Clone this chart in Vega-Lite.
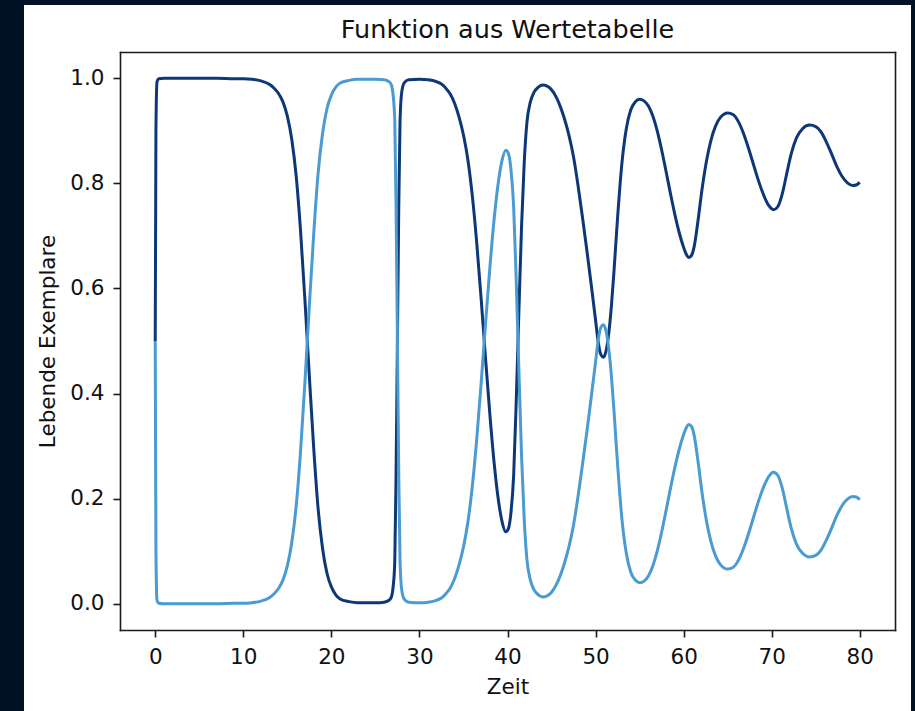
{
  "$schema": "https://vega.github.io/schema/vega-lite/v6.json",
  "width": 887,
  "height": 706,
  "padding": {"left": 24, "top": 5, "right": 4, "bottom": 0},
  "background": "#011126",
  "title": {
    "text": "Funktion aus Wertetabelle",
    "anchor": "middle",
    "frame": "group",
    "dx": 40,
    "dy": 24,
    "offset": -34,
    "baseline": "alphabetic",
    "font": "DejaVu Sans",
    "fontSize": 25.5,
    "fontWeight": "normal",
    "color": "#111111"
  },
  "config": {
    "view": {"fill": "white", "stroke": null},
    "axis": {
      "grid": false,
      "domainColor": "#1a1a1a",
      "domainWidth": 1.6,
      "domainCap": "square",
      "tickColor": "#1a1a1a",
      "tickWidth": 1.6,
      "tickSize": 7,
      "labelFont": "DejaVu Sans",
      "labelFontSize": 21.5,
      "labelColor": "#111111",
      "labelPadding": 9,
      "labelFlush": false,
      "labelOverlap": false,
      "titleFont": "DejaVu Sans",
      "titleFontSize": 21.5,
      "titleFontWeight": "normal",
      "titleColor": "#111111"
    }
  },
  "data": {
    "values": [
      {"Zeit": 0, "Art A": 0.5, "Art B": 0.5},
      {"Zeit": 0.08, "Art A": 0.9, "Art B": 0.1},
      {"Zeit": 0.2, "Art A": 0.993, "Art B": 0.007},
      {"Zeit": 0.4, "Art A": 0.999, "Art B": 0.001},
      {"Zeit": 1, "Art A": 1.0, "Art B": 0.0},
      {"Zeit": 3, "Art A": 1.0, "Art B": 0.0},
      {"Zeit": 5, "Art A": 1.0, "Art B": 0.0},
      {"Zeit": 7, "Art A": 1.0, "Art B": 0.0},
      {"Zeit": 9, "Art A": 0.999, "Art B": 0.001},
      {"Zeit": 10, "Art A": 0.999, "Art B": 0.001},
      {"Zeit": 11, "Art A": 0.998, "Art B": 0.002},
      {"Zeit": 12, "Art A": 0.995, "Art B": 0.005},
      {"Zeit": 13, "Art A": 0.988, "Art B": 0.012},
      {"Zeit": 13.5, "Art A": 0.981, "Art B": 0.019},
      {"Zeit": 14, "Art A": 0.971, "Art B": 0.029},
      {"Zeit": 14.5, "Art A": 0.955, "Art B": 0.045},
      {"Zeit": 15, "Art A": 0.928, "Art B": 0.072},
      {"Zeit": 15.5, "Art A": 0.884, "Art B": 0.116},
      {"Zeit": 16, "Art A": 0.815, "Art B": 0.185},
      {"Zeit": 16.5, "Art A": 0.71, "Art B": 0.29},
      {"Zeit": 17, "Art A": 0.578, "Art B": 0.422},
      {"Zeit": 17.25, "Art A": 0.505, "Art B": 0.495},
      {"Zeit": 17.5, "Art A": 0.433, "Art B": 0.567},
      {"Zeit": 18, "Art A": 0.295, "Art B": 0.705},
      {"Zeit": 18.5, "Art A": 0.18, "Art B": 0.82},
      {"Zeit": 19, "Art A": 0.105, "Art B": 0.895},
      {"Zeit": 19.5, "Art A": 0.058, "Art B": 0.942},
      {"Zeit": 20, "Art A": 0.032, "Art B": 0.968},
      {"Zeit": 20.5, "Art A": 0.017, "Art B": 0.983},
      {"Zeit": 21, "Art A": 0.009, "Art B": 0.991},
      {"Zeit": 22, "Art A": 0.004, "Art B": 0.996},
      {"Zeit": 23, "Art A": 0.002, "Art B": 0.998},
      {"Zeit": 24, "Art A": 0.002, "Art B": 0.998},
      {"Zeit": 25, "Art A": 0.002, "Art B": 0.998},
      {"Zeit": 26, "Art A": 0.003, "Art B": 0.997},
      {"Zeit": 26.5, "Art A": 0.006, "Art B": 0.994},
      {"Zeit": 26.8, "Art A": 0.012, "Art B": 0.988},
      {"Zeit": 27.0, "Art A": 0.03, "Art B": 0.97},
      {"Zeit": 27.2, "Art A": 0.08, "Art B": 0.92},
      {"Zeit": 27.35, "Art A": 0.25, "Art B": 0.75},
      {"Zeit": 27.5, "Art A": 0.5, "Art B": 0.5},
      {"Zeit": 27.65, "Art A": 0.75, "Art B": 0.25},
      {"Zeit": 27.8, "Art A": 0.92, "Art B": 0.08},
      {"Zeit": 28.0, "Art A": 0.975, "Art B": 0.025},
      {"Zeit": 28.3, "Art A": 0.992, "Art B": 0.008},
      {"Zeit": 28.8, "Art A": 0.997, "Art B": 0.003},
      {"Zeit": 30, "Art A": 0.998, "Art B": 0.002},
      {"Zeit": 31, "Art A": 0.997, "Art B": 0.003},
      {"Zeit": 32, "Art A": 0.993, "Art B": 0.007},
      {"Zeit": 32.5, "Art A": 0.989, "Art B": 0.011},
      {"Zeit": 33, "Art A": 0.981, "Art B": 0.019},
      {"Zeit": 33.5, "Art A": 0.97, "Art B": 0.03},
      {"Zeit": 34, "Art A": 0.952, "Art B": 0.048},
      {"Zeit": 34.5, "Art A": 0.926, "Art B": 0.074},
      {"Zeit": 35, "Art A": 0.892, "Art B": 0.108},
      {"Zeit": 35.5, "Art A": 0.845, "Art B": 0.155},
      {"Zeit": 36, "Art A": 0.777, "Art B": 0.223},
      {"Zeit": 36.5, "Art A": 0.688, "Art B": 0.312},
      {"Zeit": 37, "Art A": 0.582, "Art B": 0.418},
      {"Zeit": 37.5, "Art A": 0.468, "Art B": 0.532},
      {"Zeit": 38, "Art A": 0.36, "Art B": 0.64},
      {"Zeit": 38.5, "Art A": 0.265, "Art B": 0.735},
      {"Zeit": 39, "Art A": 0.193, "Art B": 0.807},
      {"Zeit": 39.4, "Art A": 0.155, "Art B": 0.845},
      {"Zeit": 39.8, "Art A": 0.137, "Art B": 0.863},
      {"Zeit": 40.1, "Art A": 0.143, "Art B": 0.857},
      {"Zeit": 40.4, "Art A": 0.175, "Art B": 0.825},
      {"Zeit": 40.7, "Art A": 0.245, "Art B": 0.755},
      {"Zeit": 41.0, "Art A": 0.39, "Art B": 0.61},
      {"Zeit": 41.3, "Art A": 0.56, "Art B": 0.44},
      {"Zeit": 41.6, "Art A": 0.72, "Art B": 0.28},
      {"Zeit": 41.9, "Art A": 0.84, "Art B": 0.16},
      {"Zeit": 42.2, "Art A": 0.915, "Art B": 0.085},
      {"Zeit": 42.6, "Art A": 0.955, "Art B": 0.045},
      {"Zeit": 43.0, "Art A": 0.973, "Art B": 0.027},
      {"Zeit": 43.5, "Art A": 0.983, "Art B": 0.017},
      {"Zeit": 44.0, "Art A": 0.987, "Art B": 0.013},
      {"Zeit": 44.5, "Art A": 0.985, "Art B": 0.015},
      {"Zeit": 45.0, "Art A": 0.978, "Art B": 0.022},
      {"Zeit": 45.5, "Art A": 0.965, "Art B": 0.035},
      {"Zeit": 46.0, "Art A": 0.946, "Art B": 0.054},
      {"Zeit": 46.5, "Art A": 0.921, "Art B": 0.079},
      {"Zeit": 47.0, "Art A": 0.89, "Art B": 0.11},
      {"Zeit": 47.5, "Art A": 0.85, "Art B": 0.15},
      {"Zeit": 48.0, "Art A": 0.797, "Art B": 0.203},
      {"Zeit": 48.5, "Art A": 0.737, "Art B": 0.263},
      {"Zeit": 49.0, "Art A": 0.674, "Art B": 0.326},
      {"Zeit": 49.5, "Art A": 0.608, "Art B": 0.392},
      {"Zeit": 50.0, "Art A": 0.54, "Art B": 0.46},
      {"Zeit": 50.3, "Art A": 0.498, "Art B": 0.502},
      {"Zeit": 50.6, "Art A": 0.474, "Art B": 0.526},
      {"Zeit": 50.9, "Art A": 0.469, "Art B": 0.531},
      {"Zeit": 51.2, "Art A": 0.482, "Art B": 0.518},
      {"Zeit": 51.5, "Art A": 0.515, "Art B": 0.485},
      {"Zeit": 51.8, "Art A": 0.567, "Art B": 0.433},
      {"Zeit": 52.1, "Art A": 0.635, "Art B": 0.365},
      {"Zeit": 52.5, "Art A": 0.735, "Art B": 0.265},
      {"Zeit": 53.0, "Art A": 0.84, "Art B": 0.16},
      {"Zeit": 53.5, "Art A": 0.905, "Art B": 0.095},
      {"Zeit": 54.0, "Art A": 0.94, "Art B": 0.06},
      {"Zeit": 54.5, "Art A": 0.955, "Art B": 0.045},
      {"Zeit": 55.0, "Art A": 0.96, "Art B": 0.04},
      {"Zeit": 55.5, "Art A": 0.957, "Art B": 0.043},
      {"Zeit": 56.0, "Art A": 0.947, "Art B": 0.053},
      {"Zeit": 56.5, "Art A": 0.928, "Art B": 0.072},
      {"Zeit": 57.0, "Art A": 0.9, "Art B": 0.1},
      {"Zeit": 57.5, "Art A": 0.864, "Art B": 0.136},
      {"Zeit": 58.0, "Art A": 0.823, "Art B": 0.177},
      {"Zeit": 58.5, "Art A": 0.781, "Art B": 0.219},
      {"Zeit": 59.0, "Art A": 0.741, "Art B": 0.259},
      {"Zeit": 59.5, "Art A": 0.706, "Art B": 0.294},
      {"Zeit": 60.0, "Art A": 0.678, "Art B": 0.322},
      {"Zeit": 60.3, "Art A": 0.665, "Art B": 0.335},
      {"Zeit": 60.6, "Art A": 0.659, "Art B": 0.341},
      {"Zeit": 60.9, "Art A": 0.663, "Art B": 0.337},
      {"Zeit": 61.2, "Art A": 0.68, "Art B": 0.32},
      {"Zeit": 61.6, "Art A": 0.725, "Art B": 0.275},
      {"Zeit": 62.1, "Art A": 0.79, "Art B": 0.21},
      {"Zeit": 62.6, "Art A": 0.843, "Art B": 0.157},
      {"Zeit": 63.1, "Art A": 0.882, "Art B": 0.118},
      {"Zeit": 63.6, "Art A": 0.908, "Art B": 0.092},
      {"Zeit": 64.2, "Art A": 0.926, "Art B": 0.074},
      {"Zeit": 65.0, "Art A": 0.934, "Art B": 0.066},
      {"Zeit": 65.6, "Art A": 0.931, "Art B": 0.069},
      {"Zeit": 66.2, "Art A": 0.918, "Art B": 0.082},
      {"Zeit": 66.8, "Art A": 0.895, "Art B": 0.105},
      {"Zeit": 67.4, "Art A": 0.865, "Art B": 0.135},
      {"Zeit": 68.0, "Art A": 0.832, "Art B": 0.168},
      {"Zeit": 68.6, "Art A": 0.8, "Art B": 0.2},
      {"Zeit": 69.2, "Art A": 0.773, "Art B": 0.227},
      {"Zeit": 69.7, "Art A": 0.757, "Art B": 0.243},
      {"Zeit": 70.2, "Art A": 0.75, "Art B": 0.25},
      {"Zeit": 70.7, "Art A": 0.756, "Art B": 0.244},
      {"Zeit": 71.2, "Art A": 0.78, "Art B": 0.22},
      {"Zeit": 71.7, "Art A": 0.818, "Art B": 0.182},
      {"Zeit": 72.2, "Art A": 0.855, "Art B": 0.145},
      {"Zeit": 72.8, "Art A": 0.886, "Art B": 0.114},
      {"Zeit": 73.5, "Art A": 0.904, "Art B": 0.096},
      {"Zeit": 74.3, "Art A": 0.911, "Art B": 0.089},
      {"Zeit": 75.0, "Art A": 0.908, "Art B": 0.092},
      {"Zeit": 75.6, "Art A": 0.898, "Art B": 0.102},
      {"Zeit": 76.2, "Art A": 0.879, "Art B": 0.121},
      {"Zeit": 76.8, "Art A": 0.856, "Art B": 0.144},
      {"Zeit": 77.4, "Art A": 0.832, "Art B": 0.168},
      {"Zeit": 78.0, "Art A": 0.813, "Art B": 0.187},
      {"Zeit": 78.6, "Art A": 0.801, "Art B": 0.199},
      {"Zeit": 79.2, "Art A": 0.796, "Art B": 0.204},
      {"Zeit": 79.6, "Art A": 0.797, "Art B": 0.203},
      {"Zeit": 80.0, "Art A": 0.802, "Art B": 0.198}
    ]
  },
  "transform": [{"fold": ["Art A", "Art B"], "as": ["Art", "Anteil"]}],
  "layer": [
    {
      "transform": [{"filter": "datum.Art === 'Art A'"}],
      "mark": {"type": "line", "strokeWidth": 3, "interpolate": "monotone"},
      "encoding": {
        "x": {
          "field": "Zeit",
          "type": "quantitative",
          "scale": {"domain": [-4, 84], "range": [96, 871], "nice": false, "zero": false},
          "axis": {"orient": "bottom", "offset": -81, "values": [0, 10, 20, 30, 40, 50, 60, 70, 80], "format": "d", "title": "Zeit", "titlePadding": 9}
        },
        "y": {
          "field": "Anteil",
          "type": "quantitative",
          "scale": {"domain": [-0.05, 1.05], "range": [625, 47], "nice": false, "zero": false},
          "axis": {"orient": "left", "offset": -96, "values": [0, 0.2, 0.4, 0.6, 0.8, 1.0], "format": ".1f", "title": "Lebende Exemplare", "titlePadding": 10}
        },
        "color": {
          "field": "Art",
          "type": "nominal",
          "scale": {"domain": ["Art A", "Art B"], "range": ["#0d3777", "#4a9bd1"]},
          "legend": null
        }
      }
    },
    {
      "transform": [{"filter": "datum.Art === 'Art B'"}],
      "mark": {"type": "line", "strokeWidth": 3, "interpolate": "monotone"},
      "encoding": {
        "x": {
          "field": "Zeit",
          "type": "quantitative",
          "scale": {"domain": [-4, 84], "range": [96, 871], "nice": false, "zero": false},
          "axis": {"orient": "top", "offset": -47, "labels": false, "ticks": false, "title": null}
        },
        "y": {
          "field": "Anteil",
          "type": "quantitative",
          "scale": {"domain": [-0.05, 1.05], "range": [625, 47], "nice": false, "zero": false},
          "axis": {"orient": "right", "offset": -16, "labels": false, "ticks": false, "title": null}
        },
        "color": {
          "field": "Art",
          "type": "nominal",
          "scale": {"domain": ["Art A", "Art B"], "range": ["#0d3777", "#4a9bd1"]},
          "legend": null
        }
      }
    }
  ],
  "resolve": {"axis": {"x": "independent", "y": "independent"}}
}
